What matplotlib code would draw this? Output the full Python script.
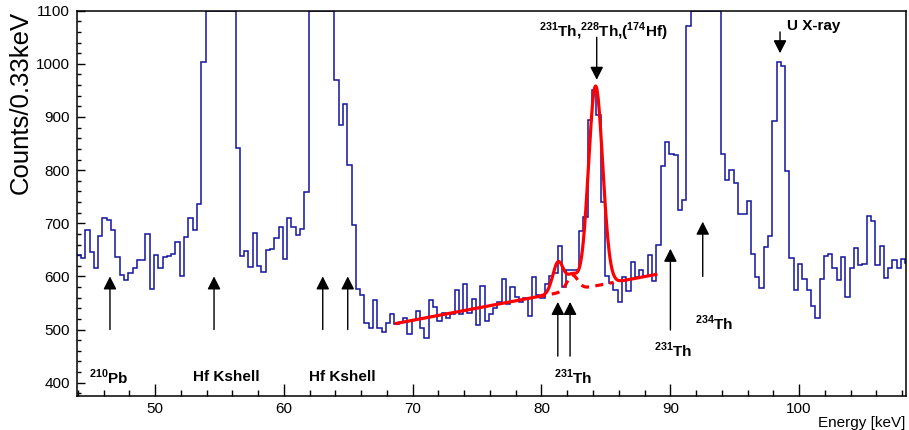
import matplotlib.pyplot as plt
import numpy as np

plt.rcParams['font.family'] = ['Liberation Sans', 'DejaVu Sans']
plt.rcParams['mathtext.fontset'] = 'custom'
plt.rcParams['mathtext.rm'] = 'Liberation Sans:bold'
plt.rcParams['mathtext.bf'] = 'Liberation Sans:bold'

# spectrum: 0.33 keV bins, first bin edge at 43.92 keV
BIN_START = 43.919
BIN_WIDTH = 1 / 3
counts = [
    640, 634, 688, 646, 615, 676, 709, 707, 687, 637,
    602, 594, 607, 615, 630, 631, 679, 576, 640, 615,
    636, 638, 643, 665, 601, 674, 709, 687, 737, 1004,
    1350, 1900, 2600, 2900, 2400, 1700, 1250, 841, 639, 648,
    617, 681, 620, 608, 649, 651, 673, 693, 632, 709,
    693, 678, 689, 759, 1300, 1800, 2300, 2100, 1600, 1200,
    970, 885, 924, 809, 696, 577, 565, 512, 502, 555,
    502, 495, 512, 530, 510, 515, 522, 491, 518, 535,
    502, 485, 556, 543, 516, 532, 522, 530, 574, 530,
    585, 531, 558, 508, 582, 516, 530, 541, 552, 596,
    549, 580, 561, 552, 560, 525, 599, 565, 560, 585,
    600, 606, 658, 580, 612, 612, 612, 686, 712, 894,
    950, 904, 740, 600, 588, 575, 552, 599, 573, 627,
    598, 613, 600, 641, 591, 660, 808, 853, 830, 828,
    725, 743, 1071, 1300, 1700, 2000, 1900, 1500, 1250, 1150,
    831, 781, 800, 776, 718, 718, 742, 643, 599, 579,
    656, 676, 893, 1004, 996, 799, 634, 574, 624, 595,
    575, 544, 522, 596, 638, 643, 616, 594, 637, 561,
    615, 654, 622, 623, 713, 705, 621, 657, 597, 616,
    630, 616, 632, 625,
]

# fit: linear background + three gaussians
FIT_RANGE = (68.6, 89.0)
SUB_RANGE = (79.7, 85.6)
BG_E0, BG_C0, BG_SLOPE = 68.6, 511.0, 4.57
peak_centers = [81.3, 82.4, 84.2]
peak_amps = [58.0, 28.0, 376.0]
peak_sigmas = [0.42, 0.42, 0.55]

XMIN, XMAX = 43.919, 108.28
YMIN, YMAX = 375, 1100

BLUE = '#14149e'


def background(e):
    return BG_C0 + BG_SLOPE * (e - BG_E0)


def gauss(e, i):
    return peak_amps[i] * np.exp(-0.5 * ((e - peak_centers[i]) / peak_sigmas[i]) ** 2)


fig, ax = plt.subplots(figsize=(9.09, 4.30), dpi=100)
fig.subplots_adjust(left=0.0844, right=0.9964, top=0.9751, bottom=0.0791)

edges = BIN_START + BIN_WIDTH * np.arange(len(counts) + 1)
shown = np.minimum(np.array(counts, dtype=float), YMAX)
ax.stairs(shown, edges, baseline=None, color=BLUE, lw=1.1, zorder=2)

e = np.linspace(*FIT_RANGE, 600)
total = background(e) + gauss(e, 0) + gauss(e, 1) + gauss(e, 2)
ax.plot(e, total, color='red', lw=2.3, zorder=3, solid_capstyle='butt')

e2 = np.linspace(*SUB_RANGE, 200)
ax.plot(e2, background(e2) + gauss(e2, 1), color='red', lw=2.3,
        linestyle=(0, (2.5, 2.0)), zorder=3)

# arrows: (energy, tail, tip)
arrows = [
    (46.5, 500, 600), (54.58, 500, 600), (63.02, 500, 600), (64.96, 500, 600),
    (81.27, 450, 552), (82.22, 450, 552), (90.01, 499, 652), (92.52, 600, 703),
    (84.29, 1050, 970), (98.52, 1060, 1020),
]
for x, tail, tip in arrows:
    ax.annotate('', xy=(x, tip), xytext=(x, tail),
                arrowprops=dict(arrowstyle='-|>,head_length=0.65,head_width=0.33',
                                color='black', lw=1.0, shrinkA=0, shrinkB=0,
                                mutation_scale=12),
                zorder=4)

labels = [
    (46.4, 411, r'$^{210}$Pb'),
    (55.57, 411, 'Hf Kshell'),
    (64.52, 411, 'Hf Kshell'),
    (82.48, 411, r'$^{231}$Th'),
    (90.24, 461, r'$^{231}$Th'),
    (93.38, 512, r'$^{234}$Th'),
    (84.82, 1060, r'$^{231}$Th,$^{228}$Th,($^{174}$Hf)'),
    (101.1, 1071, 'U X-ray'),
]
for x, y, s in labels:
    ax.text(x, y, s, ha='center', va='center', fontsize=11, fontweight='bold', zorder=5)

ax.set_xlim(XMIN, XMAX)
ax.set_ylim(YMIN, YMAX)
ax.set_xticks(np.arange(50, 101, 10))
ax.set_xticks(np.arange(44, 109, 2), minor=True)
ax.set_yticks(np.arange(400, 1101, 100))
ax.set_yticks(np.arange(380, 1101, 20), minor=True)
ax.tick_params(axis='both', which='both', direction='in', top=False, right=False,
               labelsize=11, width=1.0)
ax.tick_params(axis='x', which='major', length=8.5, pad=4)
ax.tick_params(axis='x', which='minor', length=4.3)
ax.tick_params(axis='y', which='major', length=6, pad=5)
ax.tick_params(axis='y', which='minor', length=3)
for sp in ax.spines.values():
    sp.set_linewidth(1.1)

ax.set_xlabel('Energy [keV]', fontsize=11, loc='right')
ax.xaxis.set_label_coords(1.0, -0.052)
ax.set_ylabel('Counts/0.33keV', fontsize=18.5, loc='top')
ax.yaxis.set_label_coords(-0.068, 1.0)
ax.yaxis.label.set_verticalalignment('center')

fig.savefig('out.png', dpi=100)
